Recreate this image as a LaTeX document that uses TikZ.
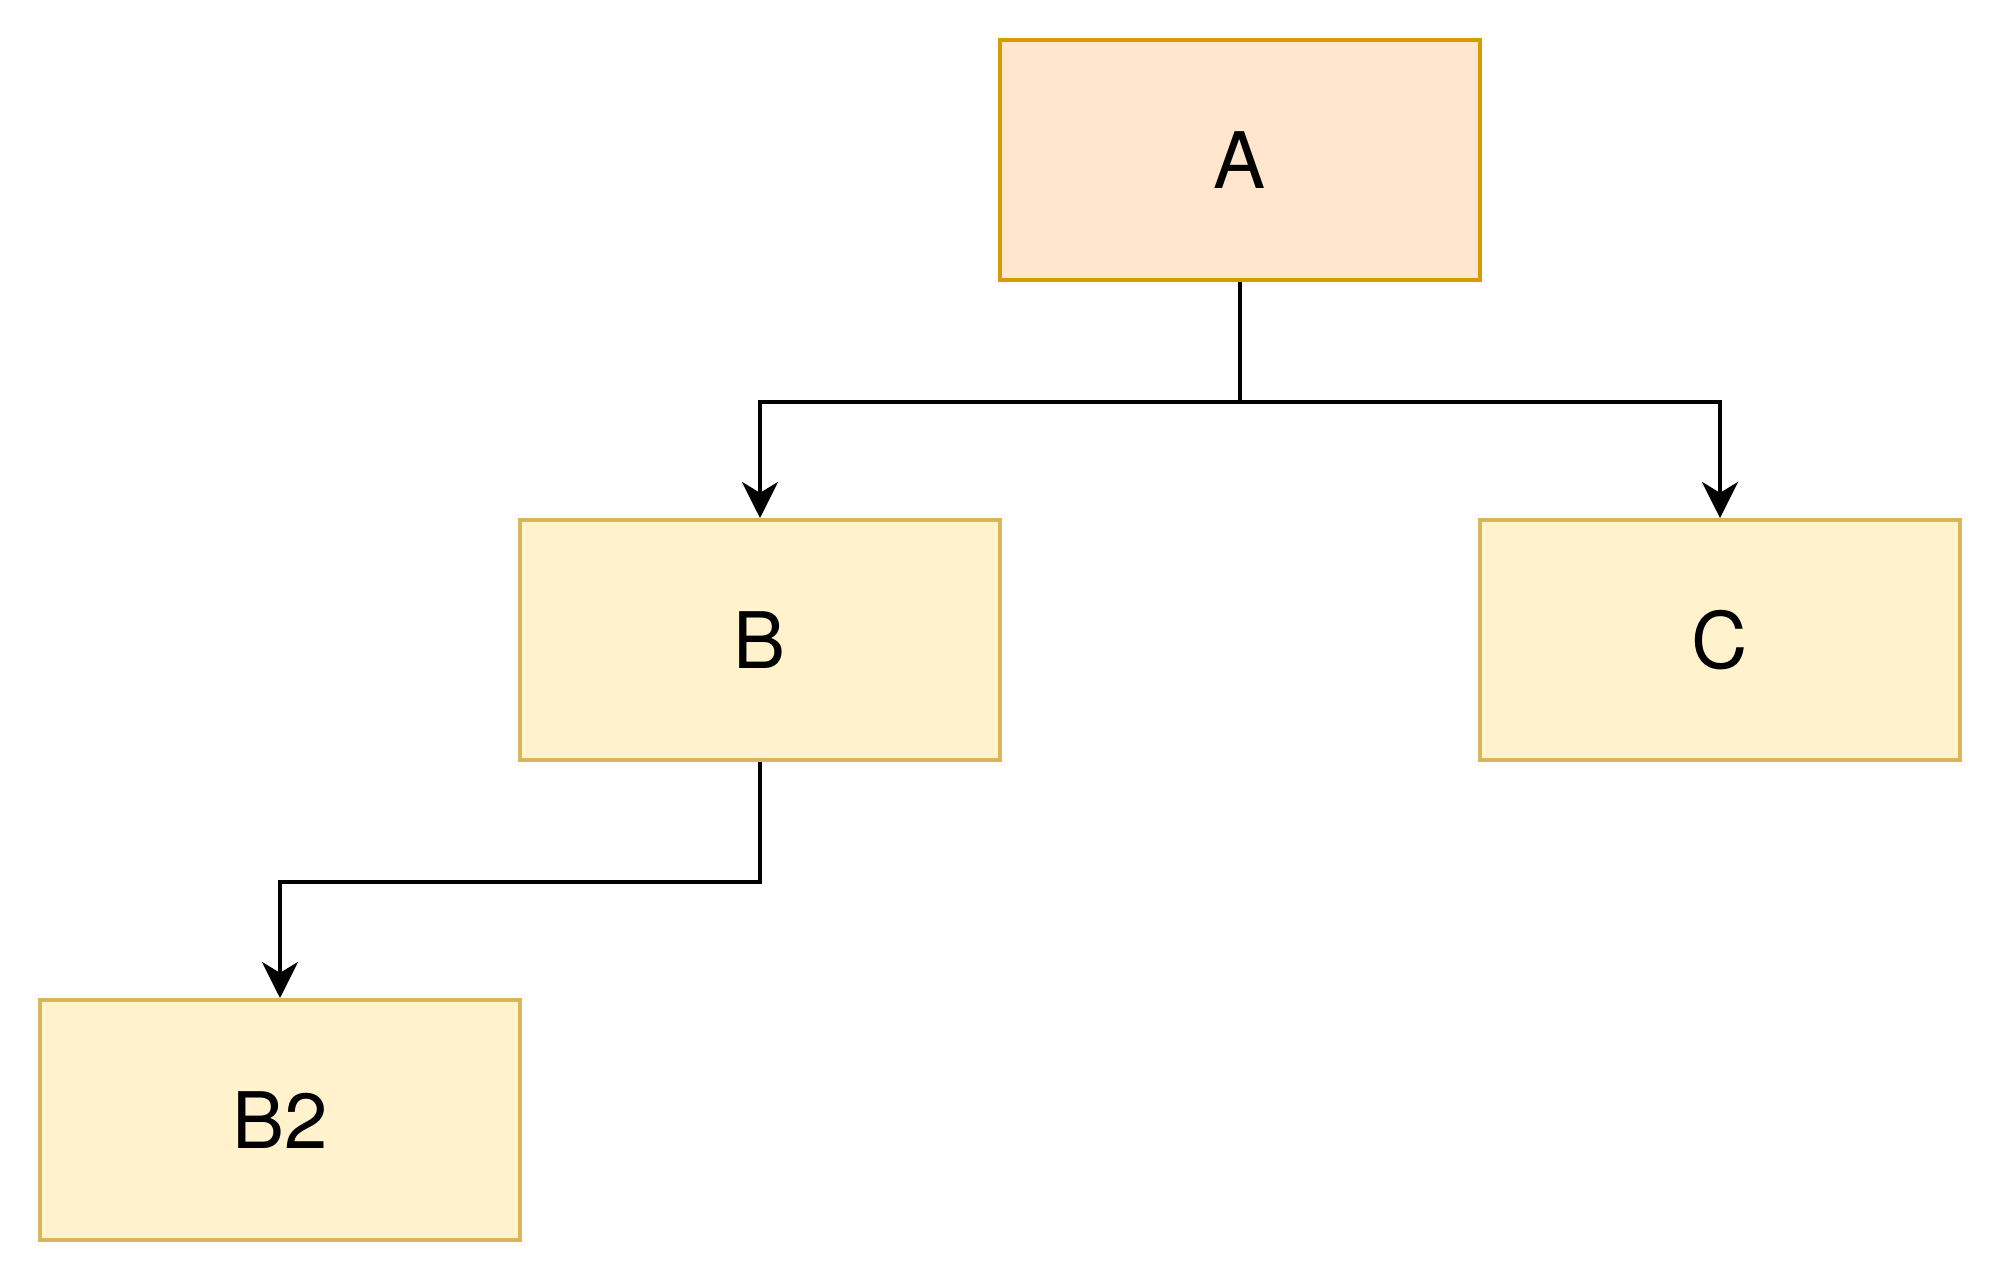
\documentclass[tikz,border=0pt]{standalone}
\usepackage{fontspec}
\setmainfont{TeX Gyre Heros}
\usetikzlibrary{arrows.meta}
\definecolor{afill}{HTML}{FFE6CC}
\definecolor{astroke}{HTML}{D79B00}
\definecolor{bfill}{HTML}{FFF2CC}
\definecolor{bstroke}{HTML}{D6B656}
\begin{document}
\begin{tikzpicture}[x=1pt,y=1pt,
  box/.style={rectangle, minimum width=120pt, minimum height=60pt, inner sep=0pt, line width=1pt, font=\fontsize{19.5}{23}\selectfont},
  orangebox/.style={box, draw=astroke, fill=afill},
  yellowbox/.style={box, draw=bstroke, fill=bfill},
  conn/.style={line width=1pt, -{Stealth[length=9pt, width=9pt, inset=2.7pt]}}
]
\useasboundingbox (0,0) rectangle (501,-321);
\node[orangebox] (A) at (310,-40) {A};
\node[yellowbox] (B) at (190,-160) {B};
\node[yellowbox] (C) at (430,-160) {C};
\node[yellowbox] (B2) at (70,-280) {B2};
\draw[conn] (A.south) -- ++(0,-30) -| (B.north);
\draw[conn] (A.south) -- ++(0,-30) -| (C.north);
\draw[conn] (B.south) -- ++(0,-30) -| (B2.north);
\end{tikzpicture}
\end{document}
